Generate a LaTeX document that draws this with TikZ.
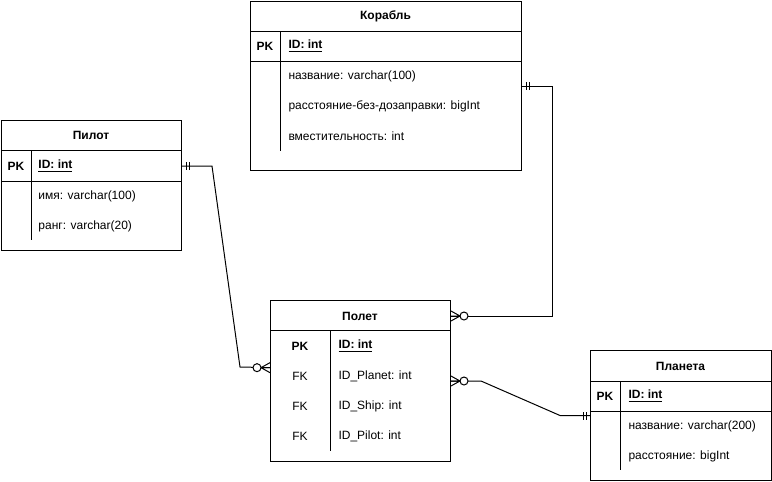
\documentclass[tikz,border=0pt]{standalone}
\usepackage{fontspec}
\setmainfont{Liberation Sans}
\begin{document}
\begin{tikzpicture}[x=0.75pt,y=-0.75pt,line width=0.75pt,
  font=\fontsize{9}{11}\selectfont,
  tbl/.style={draw,anchor=north west,inner sep=0},
  title/.style={font=\fontsize{9}{11}\selectfont\bfseries,inner sep=0},
  pk/.style={font=\fontsize{9}{11}\selectfont\bfseries,inner sep=0},
  fk/.style={inner sep=0},
  fld/.style={anchor=west,inner sep=0},
  mandone/.pic={\draw (4,-4)--(4,4) (7,-4)--(7,4);},
  zeromany/.pic={\draw (0,-5)--(9,0)--(0,5) (0,0)--(9,0);
                 \draw[fill=white] (13,0) circle[radius=4];}]
\path[fill=white,use as bounding box] (0,0) rectangle (772,482);
%%%%%%%%%%%%%%%%%%%%%%%%%%%%%%% Корабль
\node[tbl,minimum width=271*0.75pt,minimum height=169*0.75pt](ship) at (250,1){};
\node[title](shiptitle) at (385.5,16){Корабль};
\draw (250,31) -- (521,31) (250,61) -- (521,61) (280,31) -- (280,151);
\node[pk](shippk) at (265,46){PK};
\node[fld,font=\fontsize{9}{11}\selectfont\bfseries](shipid) at (288,46){\underline{ID: int}};
\node[fld](shipname) at (288,76){название: varchar(100)};
\node[fld](shiprange) at (288,106){расстояние-без-дозаправки: bigInt};
\node[fld](shipcap) at (288,136){вместительность: int};
%%%%%%%%%%%%%%%%%%%%%%%%%%%%%%% Пилот
\node[tbl,minimum width=180*0.75pt,minimum height=130*0.75pt](pilot) at (1,120){};
\node[title](pilottitle) at (91,135){Пилот};
\draw (1,150) -- (181,150) (1,181) -- (181,181) (31,150) -- (31,240);
\node[pk](pilotpk) at (16,166){PK};
\node[fld,font=\fontsize{9}{11}\selectfont\bfseries](pilotid) at (38,166){\underline{ID: int}};
\node[fld](pilotname) at (38,196){имя: varchar(100)};
\node[fld](pilotrank) at (38,226){ранг: varchar(20)};
%%%%%%%%%%%%%%%%%%%%%%%%%%%%%%% Полет
\node[tbl,minimum width=180*0.75pt,minimum height=161*0.75pt](flight) at (270,300){};
\node[title](flighttitle) at (360,316){Полет};
\draw (270,330) -- (450,330) (330,330) -- (330,451);
\node[pk](flightpk) at (300,346){PK};
\node[fk](fk1) at (300,376){FK};
\node[fk](fk2) at (300,406){FK};
\node[fk](fk3) at (300,436){FK};
\node[fld,font=\fontsize{9}{11}\selectfont\bfseries](flightid) at (338,346){\underline{ID: int}};
\node[fld](flightplanet) at (338,376){ID\_Planet: int};
\node[fld](flightship) at (338,406){ID\_Ship: int};
\node[fld](flightpilot) at (338,436){ID\_Pilot: int};
%%%%%%%%%%%%%%%%%%%%%%%%%%%%%%% Планета
\node[tbl,minimum width=181*0.75pt,minimum height=130*0.75pt](planet) at (590,350){};
\node[title](planettitle) at (680.5,366){Планета};
\draw (590,381) -- (771,381) (590,411) -- (771,411) (620,381) -- (620,470);
\node[pk](planetpk) at (605,396){PK};
\node[fld,font=\fontsize{9}{11}\selectfont\bfseries](planetid) at (628,396){\underline{ID: int}};
\node[fld](planetname) at (628,426){название: varchar(200)};
\node[fld](planetdist) at (628,456){расстояние: bigInt};
%%%%%%%%%%%%%%%%%%%%%%%%%%%%%%% links
\draw (pilot.east |- pilotid) -- ++(30,0) -- (240,367) -- ([yshift=10pt]flight.west);
\draw (ship.east) -- ++(30,0) |- (flight.east |- flighttitle);
\draw (flight.east) -- ++(30,0) -- ([xshift=-22.5pt]planet.west) -- (planet.west);
\pic at (pilot.east |- pilotid) {mandone};
\pic[rotate=180] at ([yshift=10pt]flight.west) {zeromany};
\pic at (ship.east) {mandone};
\pic at (flight.east |- flighttitle) {zeromany};
\pic at (flight.east) {zeromany};
\pic[rotate=180] at (planet.west) {mandone};
\end{tikzpicture}
\end{document}
